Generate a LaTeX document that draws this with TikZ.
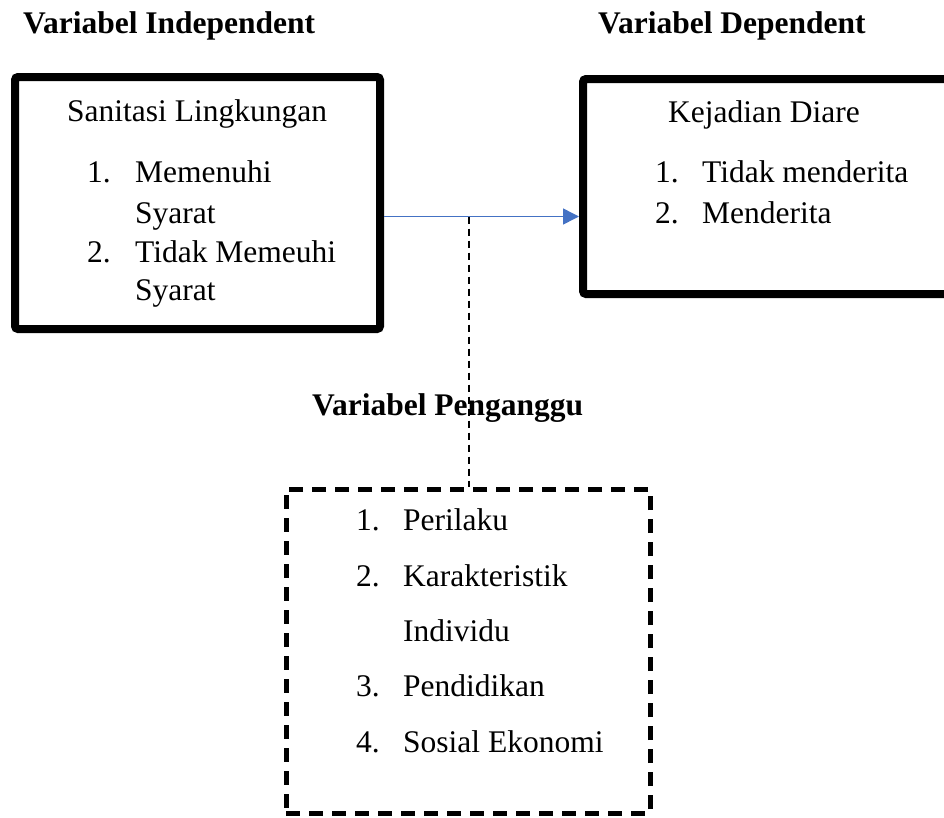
\documentclass[tikz,border=0pt]{standalone}
\usepackage{fontspec}
\setmainfont{Liberation Serif}
\usetikzlibrary{arrows.meta}
\definecolor{arrowblue}{HTML}{4472C4}
\newcommand{\clrarrow}{arrowblue}

\tikzset{
  txt/.style={anchor=base west, inner sep=0pt, font=\fontsize{31.5}{38}\selectfont},
  titletxt/.style={txt, font=\fontsize{31.5}{38}\selectfont\bfseries},
  solidbox/.style={draw, line width=8pt, rounded corners=3pt, inner sep=0pt},
  dashbox/.style={draw, line width=5pt, dash pattern=on 14pt off 9pt, inner sep=0pt}
}

\begin{document}
\begin{tikzpicture}[x=1pt, y=-1pt]
    \clip (0,0) rectangle (944,817);

    % headings
    \node[titletxt] (indep) at (23,33) {Variabel Independent};
    \node[titletxt] (dep) at (598,33) {Variabel Dependent};
    \node[titletxt] (peng) at (312,415) {Variabel Penganggu};

    % boxes
    \node[solidbox, minimum width=365pt, minimum height=252pt] (boxind) at (197.5,203) {};
    \node[solidbox, minimum width=417pt, minimum height=215pt] (boxdep) at (791.5,186.5) {};
    \node[dashbox, minimum width=364pt, minimum height=324pt] (boxpeng) at (468,651) {};

    % independent
    \node[txt] (san) at (67,121) {Sanitasi Lingkungan};
    \node[txt] (sanA) at (87,182) {1.};
    \node[txt] (sanAt) at (135,182) {Memenuhi};
    \node[txt] (sanAu) at (135,223) {Syarat};
    \node[txt] (sanB) at (87,262) {2.};
    \node[txt] (sanBt) at (135,262) {Tidak Memeuhi};
    \node[txt] (sanBu) at (135,300) {Syarat};

    % dependent
    \node[txt] (diare) at (668,122) {Kejadian Diare};
    \node[txt] (diaA) at (655,182) {1.};
    \node[txt] (diaAt) at (702,182) {Tidak menderita};
    \node[txt] (diaB) at (655,223) {2.};
    \node[txt] (diaBt) at (702,223) {Menderita};

    % confounders
    \node[txt] (pA) at (356,530) {1.};
    \node[txt] (pAt) at (403,530) {Perilaku};
    \node[txt] (pB) at (356,586) {2.};
    \node[txt] (pBt) at (403,586) {Karakteristik};
    \node[txt] (pBu) at (403,641) {Individu};
    \node[txt] (pC) at (356,696) {3.};
    \node[txt] (pCt) at (403,696) {Pendidikan};
    \node[txt] (pD) at (356,752) {4.};
    \node[txt] (pDt) at (403,752) {Sosial Ekonomi};

    % connectors
    \coordinate (junction) at (469,216.5);
    \draw[\clrarrow, line width=1.5pt, -{Triangle[length=16pt,width=16pt]}]
        (boxind.east |- junction) -- (boxdep.west |- junction);
    \draw[line width=1.8pt, dash pattern=on 7pt off 5pt] (junction) -- (boxpeng.north -| junction);
\end{tikzpicture}
\end{document}
